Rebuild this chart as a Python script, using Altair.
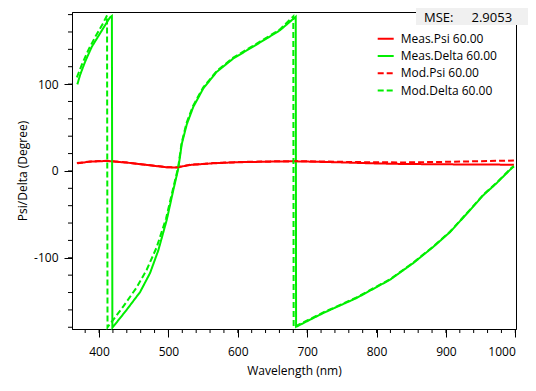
import altair as alt
import pandas as pd

# ---- data ----
meas_psi_wl = [368.7, 387, 411, 440, 468.7, 497.5, 512, 531, 564.7, 598.4, 646, 682.4, 742.5, 790.5, 838.5, 886.6, 934.6, 998]
meas_psi_val = [8.8, 10.7, 11.5, 9.6, 6.9, 4.2, 4.0, 6.9, 8.8, 10.0, 10.7, 11.1, 10.0, 8.8, 8.0, 7.7, 7.4, 7.2]

mod_psi_wl = [368, 387, 411, 440, 468.7, 497.5, 512, 531, 564.7, 598.4, 646, 682.4, 742.5, 790.5, 838.5, 886.6, 934.6, 998]
mod_psi_val = [9.0, 10.8, 11.6, 9.7, 7.0, 4.3, 4.2, 7.0, 9.0, 10.2, 11.0, 11.3, 10.6, 10.0, 9.8, 10.3, 11.0, 12.0]

meas_delta_wl = [368.7, 372.6, 379.8, 389.5, 401.4, 410, 416, 418.5,
                 419.2, 439.9, 459.1, 473.5, 485.4, 497.6, 507.1, 514.3, 519.2, 526.4, 535.9, 550.3, 569.6,
                 593.5, 617.6, 641.6, 660.8, 683.5,
                 684.0, 723.2, 771.3, 819.3, 852.9, 881.7, 905.8, 929.8, 953.8, 973, 994.7, 998]
meas_delta_val = [99.7, 110.3, 125.6, 142.9, 158.3, 169.5, 177, 178.5,
                  -180.5, -159.8, -139.5, -117.6, -91.5, -56.3, -21.8, 3, 31, 53.5, 73.9, 95, 114.1,
                  129.5, 141, 152.5, 162, 177.5,
                  -179.5, -163.6, -146.3, -125.3, -106.1, -87.5, -70.5, -49.5, -28, -14.1, 3.1, 5.0]

mod_delta_wl = [368, 375, 385, 395, 405, 411.5,
                412.2, 435, 454.3, 468.7, 483, 496.5, 506.5, 514, 519, 526, 535.5, 550, 569.6,
                593.5, 617.6, 641.6, 660.8, 680,
                680.5, 723.2, 771.3, 819.3, 852.9, 881.7, 905.8, 929.8, 953.8, 973, 994.7, 998]
mod_delta_val = [107.7, 122, 140, 155, 169, 179,
                 -180, -156, -134, -113.8, -88, -55, -21, 4, 32, 55, 75, 96, 115,
                 130.5, 142, 153.5, 163, 178,
                 -180, -163, -145.5, -124.8, -105.5, -87, -70, -49, -27.5, -13.5, 3.6, 5.5]

series_names = ["Meas.Psi 60.00", "Meas.Delta 60.00", "Mod.Psi 60.00", "Mod.Delta 60.00"]
series_colors = ["#ff0000", "#00ee00", "#ff0000", "#00ee00"]
series_dashes = [[1, 0], [1, 0], [6, 3], [6, 3]]

x_major_ticks = [400, 500, 600, 700, 800, 900, 1000]
x_minor_ticks = [380, 400, 420, 440, 460, 480, 500, 520, 540, 560, 580, 600, 620, 640, 660, 680, 700,
                 720, 740, 760, 780, 800, 820, 840, 860, 880, 900, 920, 940, 960, 980, 1000]
y_major_ticks = [-100, 0, 100]
y_minor_ticks = [-180, -160, -140, -120, -100, -80, -60, -40, -20, 0, 20, 40, 60, 80, 100, 120, 140, 160, 180]

mse_label = "MSE:"
mse_value = "2.9053"

# ---- build table ----
rows = []
for name, wl, val in zip(series_names,
                         [meas_psi_wl, meas_delta_wl, mod_psi_wl, mod_delta_wl],
                         [meas_psi_val, meas_delta_val, mod_psi_val, mod_delta_val]):
    for i, (w, v) in enumerate(zip(wl, val)):
        rows.append({"series": name, "wl": w, "val": v, "idx": i})
df = pd.DataFrame(rows)

FONT = "Open Sans"
W, H = 444, 317
xscale = alt.Scale(domain=[361, 1001], nice=False, zero=False)
yscale = alt.Scale(domain=[-182, 183], nice=False, zero=False)

x_axis = alt.Axis(values=x_major_ticks, tickSize=8, labelPadding=9, grid=False,
                  labelExpr="'' + datum.value",
                  labelFont=FONT, labelFontSize=12, labelColor="black",
                  domainColor="black", tickColor="black",
                  title="Wavelength (nm)", titleFont=FONT, titleFontSize=12,
                  titleFontWeight="normal", titleColor="black",
                  titleX=222, titleY=41, titleBaseline="middle", titleAlign="center")
y_axis = alt.Axis(values=y_major_ticks, tickSize=8, labelPadding=6, grid=False,
                  labelExpr="'' + datum.value",
                  labelFont=FONT, labelFontSize=12, labelColor="black",
                  domainColor="black", tickColor="black",
                  title="Psi/Delta (Degree)", titleFont=FONT, titleFontSize=12,
                  titleFontWeight="normal", titleColor="black",
                  titleX=-50, titleY=H / 2, titleAngle=270,
                  titleBaseline="middle", titleAlign="center")

lines = alt.Chart(df).mark_line(strokeWidth=2).encode(
    x=alt.X("wl:Q", scale=xscale, axis=x_axis),
    y=alt.Y("val:Q", scale=yscale, axis=y_axis),
    color=alt.Color("series:N", scale=alt.Scale(domain=series_names, range=series_colors),
                    legend=alt.Legend(orient="none", legendX=304.7, legendY=17.7, title=None,
                                      symbolType="stroke", symbolSize=256, symbolStrokeWidth=2,
                                      labelFont=FONT, labelFontSize=12, labelColor="black",
                                      rowPadding=2.3, labelOffset=6, padding=0)),
    strokeDash=alt.StrokeDash("series:N", scale=alt.Scale(domain=series_names, range=series_dashes)),
    order="idx:Q",
    detail="series:N",
)

xminor = alt.Chart(pd.DataFrame({"wl": x_minor_ticks})).mark_rule(color="black").encode(
    x=alt.X("wl:Q", scale=xscale, axis=x_axis),
    y=alt.value(H), y2=alt.value(H + 4))

yminor = alt.Chart(pd.DataFrame({"val": y_minor_ticks})).mark_rule(color="black").encode(
    y=alt.Y("val:Q", scale=yscale, axis=y_axis),
    x=alt.value(0), x2=alt.value(-4))

one = pd.DataFrame({"a": [0]})
msebox = alt.Chart(one).mark_rect(color="#f0f0f0").encode(
    x=alt.value(344), x2=alt.value(470), y=alt.value(-4), y2=alt.value(13))
msetext1 = alt.Chart(one).mark_text(align="left", baseline="middle", font=FONT, fontSize=13,
                                     color="black", text=mse_label).encode(
    x=alt.value(352), y=alt.value(5.5))
msetext2 = alt.Chart(one).mark_text(align="left", baseline="middle", font=FONT, fontSize=13,
                                     color="black", text=mse_value).encode(
    x=alt.value(399.5), y=alt.value(5.5))

chart = alt.layer(lines, xminor, yminor, msebox, msetext1, msetext2).properties(
    width=W, height=H,
    padding={"left": 64, "top": 4, "right": 12, "bottom": 50},
    autosize=alt.AutoSizeParams(type="none"),
    background="white",
).configure_view(stroke="black", strokeWidth=1)

chart.save("out.html", embed_options={"renderer": "svg", "actions": False})
